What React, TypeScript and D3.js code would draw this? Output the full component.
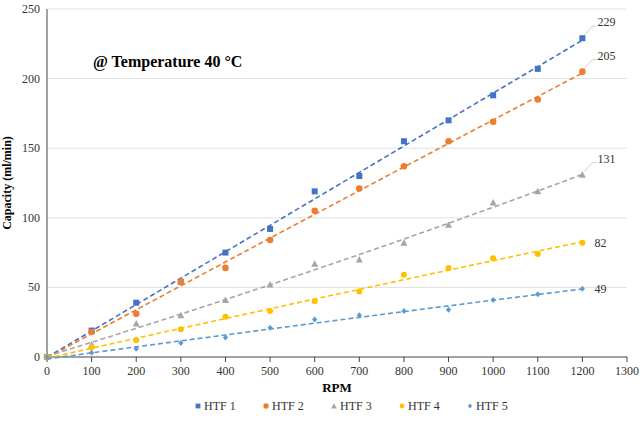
import React from 'react';
import * as d3 from 'd3';

const rpm = [0, 100, 200, 300, 400, 500, 600, 700, 800, 900, 1000, 1100, 1200];
const htf1 = [0, 19, 39, 54, 75, 92, 119, 130, 155, 170, 188, 207, 229];
const htf2 = [0, 18, 31, 54, 64, 84, 105, 121, 137, 155, 169, 185, 205];
const htf3 = [0, 9, 24, 30, 41, 52, 67, 70, 82, 95, 111, 119, 131];
const htf4 = [0, 7, 12, 20, 29, 33, 40, 47, 59, 64, 71, 74, 82];
const htf5 = [0, 3, 6, 10, 14, 21, 27, 30, 33, 34, 41, 45, 49];
const names = ['HTF 1', 'HTF 2', 'HTF 3', 'HTF 4', 'HTF 5'];
const colors = ['#4472c4', '#ed7d31', '#a5a5a5', '#ffc000', '#5b9bd5'];
const xTicks = d3.range(0, 1301, 100);
const yTicks = [0, 50, 100, 150, 200, 250];

// quadratic least squares trendline
function fit(xs: number[], ys: number[]) {
  const n = xs.length;
  let s = [0, 0, 0, 0, 0], t = [0, 0, 0];
  for (let i = 0; i < n; i++) {
    const x = xs[i] / 1000;
    for (let k = 0; k < 5; k++) s[k] += x ** k;
    for (let k = 0; k < 3; k++) t[k] += ys[i] * x ** k;
  }
  const m = [[s[0], s[1], s[2], t[0]], [s[1], s[2], s[3], t[1]], [s[2], s[3], s[4], t[2]]];
  for (let i = 0; i < 3; i++) {
    for (let j = i + 1; j < 3; j++) {
      const f = m[j][i] / m[i][i];
      for (let k = i; k < 4; k++) m[j][k] -= f * m[i][k];
    }
  }
  const c = [0, 0, 0];
  for (let i = 2; i >= 0; i--) {
    let v = m[i][3];
    for (let k = i + 1; k < 3; k++) v -= m[i][k] * c[k];
    c[i] = v / m[i][i];
  }
  return (x: number) => c[0] + c[1] * (x / 1000) + c[2] * (x / 1000) ** 2;
}

const Marker = ({ i, x, y, s = 1 }: { i: number; x: number; y: number; s?: number }) => {
  const c = colors[i];
  if (i === 0) return <rect x={x - 3 * s} y={y - 3 * s} width={6 * s} height={6 * s} fill={c} />;
  if (i === 1) return <circle cx={x} cy={y} r={3.3 * s} fill={c} />;
  if (i === 2) return <path d={`M${x - 3.5 * s},${y + 3 * s}L${x},${y - 3.5 * s}L${x + 3.5 * s},${y + 3 * s}Z`} fill={c} />;
  if (i === 3) return <circle cx={x} cy={y} r={3 * s} fill={c} />;
  return <path d={`M${x},${y - 3 * s}L${x + 2.6 * s},${y}L${x},${y + 3 * s}L${x - 2.6 * s},${y}Z`} fill={c} />;
};

const font = 'Liberation Serif, Times New Roman, DejaVu Serif, serif';

export default function App() {
  const series = [htf1, htf2, htf3, htf4, htf5];
  const x = d3.scaleLinear().domain([0, 1300]).range([47, 627]);
  const y = d3.scaleLinear().domain([0, 250]).range([357, 9]);
  const labelOff = [[10, -16], [10, -16], [10, -16], [10, 0], [10, 0]];
  return (
    <svg width={640} height={421} fontFamily={font} style={{ position: 'absolute', left: 0, top: 0 }}>
      <rect width={640} height={421} fill="#fff" />
      {yTicks.map(t => (
        <g key={t}>
          {t > 0 && <line x1={47} x2={627} y1={y(t)} y2={y(t)} stroke="#d9d9d9" strokeWidth={0.8} />}
          <text x={40} y={y(t) + 4} textAnchor="end" fontSize={12} fill="#333" fontFamily={font}>{t}</text>
        </g>
      ))}
      <line x1={47} x2={47} y1={9} y2={357} stroke="#444" />
      <line x1={47} x2={627} y1={357} y2={357} stroke="#444" />
      {xTicks.map(t => (
        <g key={t}>
          <line x1={x(t)} x2={x(t)} y1={357} y2={362} stroke="#444" />
          <text x={x(t)} y={375} textAnchor="middle" fontSize={12} fill="#333" fontFamily={font}>{t}</text>
        </g>
      ))}
      <text x={337} y={392} textAnchor="middle" fontSize={13} fontWeight="bold" fontFamily={font}>RPM</text>
      <text transform="translate(11,183) rotate(-90)" textAnchor="middle" fontSize={12} fontWeight="bold" fontFamily={font}>Capacity (ml/min)</text>
      <text x={93} y={67} fontSize={16} fontWeight="bold" fontFamily={font}>@ Temperature 40 °C</text>
      {series.map((ys, i) => {
        const f = fit(rpm, ys);
        const pts = d3.range(0, 1201, 25).map(v => [x(v), y(f(v))] as [number, number]);
        const last = ys[ys.length - 1];
        const lx = x(1200), ly = y(last);
        const [dx, dy] = labelOff[i];
        return (
          <g key={i}>
            <path d={d3.line()(pts) || ''} fill="none" stroke={colors[i]} strokeWidth={1.6} strokeDasharray="5,3" />
            {rpm.map((r, j) => <Marker key={j} i={i} x={x(r)} y={y(ys[j])} />)}
            {dy !== 0 && <polyline points={`${lx + 2},${ly - 3} ${lx + dx},${ly + dy + 4} ${lx + dx + 4},${ly + dy + 4}`} fill="none" stroke="#bbb" strokeWidth={0.7} />}
            <text x={lx + dx + 2 + (dy ? 3 : 0)} y={ly + dy + 4} fontSize={12} fill="#333" fontFamily={font}>{last}</text>
          </g>
        );
      })}
      {names.map((n, i) => {
        const lx = 198 + i * 68;
        return (
          <g key={n}>
            <Marker i={i} x={lx} y={406} s={0.8} />
            <text x={lx + 6} y={410} fontSize={12} fill="#333" fontFamily={font}>{n}</text>
          </g>
        );
      })}
    </svg>
  );
}
